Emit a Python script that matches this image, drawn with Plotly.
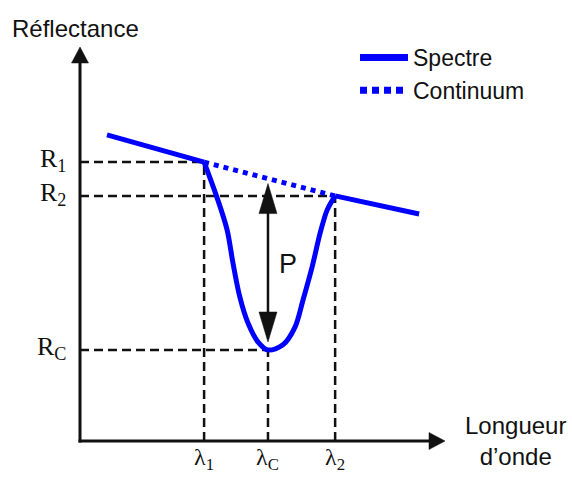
import plotly.graph_objects as go

# ---------------- data (arbitrary units: wavelength 0-100, reflectance 0-100)
spectre_x = [7.4, 34.0, 37.5, 40.3, 41.9, 43.8, 46.0, 48.8, 51.5,
             55.6, 58.9, 61.1, 63.6, 65.8, 67.7, 69.9, 92.9]
spectre_y = [77.7, 70.8, 61.9, 53.6, 45.2, 36.5, 30.0, 25.1, 23.1,
             24.4, 28.9, 35.8, 44.2, 52.8, 58.6, 62.2, 57.6]
continuum_x = [34.0, 69.9]
continuum_y = [70.8, 62.2]
lambda_vals = [34.0, 51.5, 69.9]
lambda_labels = ["λ<sub>1</sub>", "λ<sub>C</sub>", "λ<sub>2</sub>"]
r_vals = [70.8, 23.1, 62.2]          # R1, RC, R2 (paired with lambda_vals)
r_labels = ["R<sub>1</sub>", "R<sub>C</sub>", "R<sub>2</sub>"]
axis_max = 100
x_title = "Longueur<br>d’onde"
y_title = "Réflectance"
p_label = "P"

# ---------------- layout geometry (pixels)
W, H = 572, 477
X0, Y0 = 80, 441          # pixel position of the origin
XS, YS = 3.65, 3.94       # pixels per data unit
BLUE = "#0000FF"
INK = "#111111"
SANS = "Liberation Sans, Arial, sans-serif"
SERIF = "Liberation Serif, Times New Roman, serif"


def px_x(p):
    return p / XS


def px_y(p):
    return p / YS


def head(tx, ty, dx, dy, L, Wd):
    """Filled triangle arrow head; tip at data (tx,ty), pixel direction (dx,dy)."""
    bx, by = -dx * L, -dy * L
    nx, ny = -dy * Wd / 2, dx * Wd / 2
    pts = [(0, 0), (bx + nx, by + ny), (bx - nx, by - ny)]
    path = "M " + " L ".join(f"{tx + px_x(a)},{ty + px_y(b)}" for a, b in pts) + " Z"
    return dict(type="path", path=path, xref="x", yref="y",
                fillcolor=INK, line=dict(color=INK, width=0.5), layer="above")


fig = go.Figure()

# dashed guide lines from the axes to the characteristic points
gx, gy = [], []
for lv, rv in zip(lambda_vals, r_vals):
    gx += [0, lv, None, lv, lv, None]
    gy += [rv, rv, None, 0, rv, None]
fig.add_trace(go.Scatter(x=gx, y=gy, mode="lines", showlegend=False, hoverinfo="skip",
                         line=dict(color=INK, width=2.5, dash="9px,5px")))

# spectrum: straight part, absorption dip (smoothed), straight part
i1 = spectre_x.index(lambda_vals[0])
i2 = spectre_x.index(lambda_vals[2])
for sl, shp in ((slice(None, i1 + 1), "linear"), (slice(i1, i2 + 1), "spline"),
                (slice(i2, None), "linear")):
    fig.add_trace(go.Scatter(x=spectre_x[sl], y=spectre_y[sl], mode="lines",
                             name="Spectre", legendgroup="a", showlegend=False,
                             line=dict(color=BLUE, width=5, shape=shp, smoothing=0.9)))
fig.add_trace(go.Scatter(x=continuum_x, y=continuum_y, mode="lines", name="Continuum",
                         legendgroup="b", showlegend=False,
                         line=dict(color=BLUE, width=5, dash="5px,5px")))
# legend entries (thicker strokes as in the legend box)
fig.add_trace(go.Scatter(x=[None], y=[None], mode="lines", name="Spectre",
                         legendgroup="a", line=dict(color=BLUE, width=7)))
fig.add_trace(go.Scatter(x=[None], y=[None], mode="lines", name="Continuum",
                         legendgroup="b", line=dict(color=BLUE, width=7, dash="7px,5px")))

shapes = []
# axes with arrow heads
shapes.append(dict(type="line", xref="x", yref="y", x0=0, y0=-px_y(1.5), x1=0,
                   y1=axis_max - px_y(14), line=dict(color=INK, width=3)))
shapes.append(dict(type="line", xref="x", yref="y", x0=-px_x(1.5), y0=0,
                   x1=axis_max - px_x(14), y1=0, line=dict(color=INK, width=3)))
shapes.append(head(0, axis_max, 0, 1, 16, 17))
shapes.append(head(axis_max, 0, 1, 0, 16, 17))

# depth arrow P
lc = lambda_vals[1]
slope = (continuum_y[1] - continuum_y[0]) / (continuum_x[1] - continuum_x[0])
cont_c = continuum_y[0] + slope * (lc - continuum_x[0])
rc = r_vals[1]
p_top = cont_c - px_y(5)
p_bot = rc + px_y(8)
shapes.append(dict(type="line", xref="x", yref="y", x0=lc, x1=lc,
                   y0=p_bot + px_y(20), y1=p_top - px_y(20),
                   line=dict(color=INK, width=2.5)))
shapes.append(head(lc, p_top, 0, 1, 30, 18))
shapes.append(head(lc, p_bot, 0, -1, 30, 18))

ann = []
ann.append(dict(x=-px_x(70), y=px_y(Y0 - 28), xref="x", yref="y", text=y_title,
                showarrow=False, xanchor="left", yanchor="middle",
                font=dict(family=SANS, size=24, color=INK)))
ann.append(dict(x=px_x(515 - X0), y=0, xref="x", yref="y", text=x_title,
                showarrow=False, xanchor="center", yanchor="middle", align="center",
                font=dict(family=SANS, size=24, color=INK)))
ann.append(dict(x=lc + px_x(20), y=(cont_c + rc) / 2, xref="x", yref="y", text=p_label,
                showarrow=False, xanchor="center", yanchor="middle",
                font=dict(family=SANS, size=27, color=INK)))
for rv, rl in zip(r_vals, r_labels):
    ann.append(dict(x=-px_x(12), y=rv + px_y(2), xref="x", yref="y", text=rl,
                    showarrow=False, xanchor="right", yanchor="middle",
                    font=dict(family=SERIF, size=26, color=INK)))
for lv, ll in zip(lambda_vals, lambda_labels):
    ann.append(dict(x=lv, y=-px_y(H - Y0 - 1), xref="x", yref="y", text=ll,
                    showarrow=False, xanchor="center", yanchor="bottom",
                    font=dict(family=SERIF, size=24, color=INK)))

fig.update_layout(
    width=W, height=H, autosize=False,
    margin=dict(l=0, r=0, t=0, b=0),
    paper_bgcolor="white", plot_bgcolor="white",
    xaxis=dict(range=[-px_x(X0), px_x(W - X0)], visible=False, fixedrange=True),
    yaxis=dict(range=[-px_y(H - Y0), px_y(Y0)], visible=False, fixedrange=True),
    shapes=shapes, annotations=ann,
    showlegend=True,
    legend=dict(x=355 / W, y=1 - 36 / H, xanchor="left", yanchor="top",
                bgcolor="rgba(0,0,0,0)", font=dict(family=SANS, size=23, color=INK),
                itemwidth=48, traceorder="grouped", tracegroupgap=0),
)

fig.write_html("out.html", post_script="document.body.style.margin='0';",
               config={"displayModeBar": False})
